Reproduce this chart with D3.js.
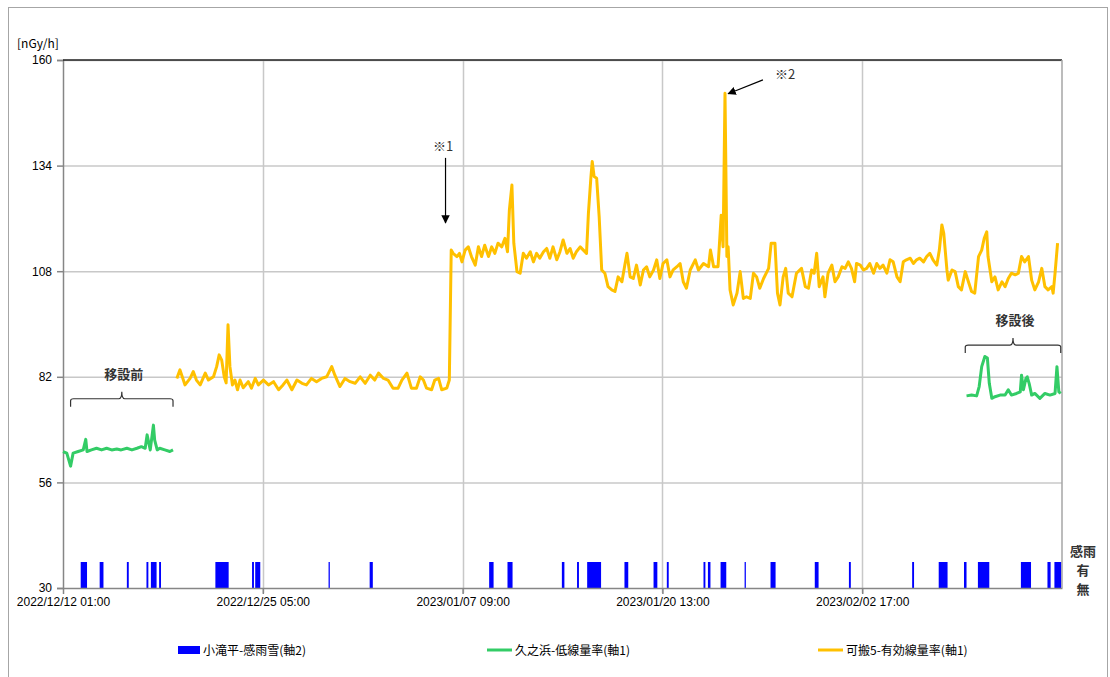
<!DOCTYPE html>
<html>
<head>
<meta charset="utf-8">
<script src="https://cdn.jsdelivr.net/npm/d3@7"></script>
<style>
  body { margin: 0; background: #fff; }
  svg { font-family: "Noto Sans CJK JP", "Noto Sans", sans-serif; }
</style>
</head>
<body>
<svg id="chart" width="1110" height="677"></svg>
<script>
// hours counted from 2022/12/12 01:00
const startTime = Date.UTC(2022, 11, 12, 1);
const totalHours = 1580;
const xTickHours = [0, 316, 632, 948, 1264];
const yTicks = [30, 56, 82, 108, 134, 160];

// 小滝平-感雨雪 (軸2): [from hour, to hour] with rain/snow = 1
const rainPeriods = [
  [28, 38], [58, 64], [101, 104], [132, 135], [139, 148], [152, 155],
  [241, 262], [299, 302], [304, 312], [420, 422], [485, 490],
  [674, 681], [703, 711], [789, 793], [813, 816], [829, 851], [888, 894],
  [934, 940], [955, 958], [1013, 1016], [1020, 1024], [1040, 1049],
  [1078, 1080], [1119, 1127], [1189, 1195], [1243, 1246], [1343, 1346],
  [1385, 1399], [1425, 1429], [1447, 1465], [1515, 1531], [1557, 1562], [1568, 1579]
];

// 久之浜-低線量率 (軸1), before and after relocation
const kuNoHamaBefore = [
  [0, 63.6], [6, 63.2], [12, 60.0], [16, 63.2], [24, 63.6], [32, 64.0], [36, 66.6],
  [38, 63.6], [45, 64.0], [53, 64.4], [61, 64.0], [69, 64.4], [77, 64.0], [85, 64.2],
  [92, 64.0], [101, 64.4], [109, 64.0], [117, 64.4], [124, 64.8], [130, 64.4],
  [133, 67.7], [138, 64.0], [143, 70.1], [145, 66.4], [149, 64.0], [153, 64.4],
  [161, 64.0], [169, 63.6], [174, 64.0]
];
const kuNoHamaAfter = [
  [1429, 77.3], [1437, 77.5], [1445, 77.3], [1449, 79.6], [1453, 84.5], [1458, 87.0],
  [1462, 86.6], [1465, 80.4], [1469, 76.7], [1474, 77.1], [1482, 77.5], [1490, 77.5],
  [1495, 78.8], [1500, 77.5], [1508, 77.9], [1514, 78.3], [1516, 82.4], [1519, 78.8],
  [1523, 81.6], [1525, 82.0], [1528, 80.4], [1532, 77.5], [1537, 77.9], [1545, 76.7],
  [1553, 77.9], [1561, 77.5], [1569, 77.9], [1572, 84.5], [1575, 78.3], [1578, 77.9]
];

// 可搬5-有効線量率 (軸1)
const kahan5 = [
  [180, 81.6], [185, 83.7], [193, 80.0], [201, 81.6], [206, 83.3], [211, 81.2], [217, 80.0],
  [225, 82.9], [230, 81.2], [238, 82.0], [243, 84.5], [247, 87.4], [251, 86.1], [255, 82.0],
  [258, 80.5], [261, 94.8], [264, 84.5], [268, 80.0], [272, 81.2], [276, 78.8], [280, 81.2],
  [285, 79.3], [293, 80.8], [298, 79.2], [304, 81.6], [309, 80.0], [317, 81.2], [325, 80.0],
  [333, 80.8], [341, 78.8], [348, 80.0], [354, 81.2], [362, 78.8], [370, 81.2], [378, 80.4],
  [385, 80.0], [393, 81.6], [401, 80.8], [409, 81.6], [417, 82.0], [425, 84.5], [430, 82.4],
  [438, 79.6], [446, 81.6], [454, 80.8], [462, 80.4], [470, 82.0], [478, 80.4], [486, 82.4],
  [493, 81.2], [499, 82.9], [507, 81.6], [514, 81.2], [522, 79.2], [530, 79.2], [536, 81.2],
  [544, 82.9], [551, 79.2], [559, 79.2], [565, 82.0], [570, 81.2], [575, 79.2], [583, 78.8],
  [588, 81.2], [594, 81.6], [599, 78.8], [607, 79.2], [611, 81.2], [614, 113.2],
  [617, 112.4], [623, 111.6], [627, 112.4], [631, 110.3], [636, 113.2], [641, 114.0],
  [646, 111.6], [652, 109.5], [657, 114.0], [662, 111.6], [667, 114.4], [673, 111.6],
  [678, 114.0], [683, 112.4], [688, 114.9], [694, 114.0], [699, 116.1], [703, 112.8],
  [706, 123.1], [710, 129.2], [713, 114.9], [718, 107.9], [723, 107.5], [728, 112.4],
  [733, 111.2], [739, 112.8], [744, 110.3], [749, 112.4], [754, 111.2], [760, 112.8],
  [765, 113.6], [770, 111.2], [775, 114.0], [781, 110.8], [786, 112.8], [791, 115.7],
  [797, 112.4], [802, 113.6], [807, 111.2], [812, 112.8], [818, 114.0], [823, 113.2],
  [828, 112.4], [831, 122.3], [835, 131.3], [837, 135.0], [840, 131.3], [844, 130.9],
  [848, 121.4], [852, 108.3], [857, 107.5], [862, 104.2], [868, 103.4], [873, 103.0],
  [878, 106.6], [884, 105.4], [889, 109.9], [892, 112.4], [897, 106.6], [902, 106.2],
  [907, 109.5], [913, 104.6], [918, 108.3], [923, 109.1], [928, 106.6], [934, 108.3],
  [939, 110.8], [944, 106.2], [949, 109.9], [955, 110.8], [960, 106.6], [965, 108.3],
  [971, 109.1], [976, 109.9], [981, 105.4], [986, 103.8], [992, 108.3], [1000, 110.8],
  [1005, 108.3], [1013, 109.9], [1021, 109.1], [1024, 113.2], [1029, 109.1], [1036, 109.1],
  [1041, 121.8], [1044, 114.0], [1047, 151.8], [1050, 111.6], [1052, 114.0], [1055, 103.4],
  [1060, 99.7], [1066, 102.6], [1071, 107.9], [1076, 101.3], [1081, 101.7], [1087, 101.3],
  [1092, 107.5], [1097, 106.6], [1102, 103.8], [1108, 106.2], [1116, 108.7], [1120, 114.9],
  [1126, 114.9], [1130, 102.6], [1134, 99.7], [1139, 106.6], [1143, 108.7], [1147, 102.6],
  [1153, 101.7], [1160, 107.5], [1168, 108.7], [1174, 104.2], [1179, 103.8], [1184, 108.3],
  [1188, 107.5], [1192, 112.4], [1196, 104.2], [1202, 106.6], [1205, 101.7], [1210, 107.5],
  [1216, 109.5], [1221, 105.4], [1226, 106.6], [1232, 109.1], [1237, 108.7], [1242, 110.3],
  [1247, 108.7], [1252, 105.4], [1255, 109.9], [1261, 109.5], [1266, 108.3], [1271, 108.7],
  [1276, 109.9], [1282, 107.5], [1287, 109.9], [1292, 108.7], [1297, 109.5], [1303, 107.5],
  [1308, 110.8], [1313, 110.3], [1319, 106.6], [1324, 105.4], [1329, 110.3], [1334, 110.8],
  [1340, 111.2], [1345, 109.9], [1350, 110.8], [1355, 111.2], [1361, 110.3], [1366, 111.6],
  [1371, 112.4], [1376, 110.8], [1382, 109.5], [1386, 113.2], [1390, 119.4], [1393, 117.3],
  [1398, 108.3], [1400, 105.8], [1406, 108.3], [1411, 107.9], [1416, 104.2], [1421, 103.4],
  [1427, 107.9], [1432, 105.4], [1437, 103.0], [1442, 102.6], [1448, 111.6], [1453, 113.2],
  [1457, 116.1], [1461, 117.7], [1463, 111.6], [1469, 105.4], [1474, 106.6], [1479, 103.4],
  [1485, 105.4], [1490, 104.2], [1495, 106.2], [1500, 107.5], [1506, 107.1], [1511, 107.5],
  [1516, 111.6], [1521, 110.3], [1527, 111.6], [1532, 105.8], [1537, 103.4], [1543, 105.4],
  [1548, 108.7], [1553, 104.2], [1558, 103.4], [1564, 104.2], [1566, 102.6], [1569, 107.5],
  [1573, 114.9]
];

const legendNames = ["小滝平-感雨雪(軸2)", "久之浜-低線量率(軸1)", "可搬5-有効線量率(軸1)"];
const colors = { rain: "#0000ff", green: "#33cc66", yellow: "#ffc000" };

const mLeft = 63, mRight = 1062, mTop = 60, mBottom = 588;
const hr = h => new Date(startTime + h * 3600e3);

const x = d3.scaleUtc()
  .domain([hr(0), hr(totalHours)])
  .range([mLeft, mRight]);
const y = d3.scaleLinear().domain([30, 160]).range([mBottom, mTop]);
const y2 = d3.scaleLinear().domain([0, 1]).range([mBottom, mBottom - 26]);
const fmt = d3.utcFormat("%Y/%m/%d %H:%M");

const svg = d3.select("#chart");

// outer frame
svg.append("rect")
  .attr("x", 8.5).attr("y", 7.5).attr("width", 1099).attr("height", 675)
  .attr("fill", "none").attr("stroke", "#a6a6a6");

// grid
svg.append("g").selectAll("line")
  .data(yTicks.slice(1))
  .join("line")
  .attr("x1", mLeft).attr("x2", mRight)
  .attr("y1", d => y(d) + 0.5).attr("y2", d => y(d) + 0.5)
  .attr("stroke", "#c8c8c8").attr("stroke-width", 1.5);
svg.append("g").selectAll("line")
  .data(xTickHours.slice(1))
  .join("line")
  .attr("x1", d => Math.round(x(hr(d))) + 0.5).attr("x2", d => Math.round(x(hr(d))) + 0.5)
  .attr("y1", mTop).attr("y2", mBottom + 5)
  .attr("stroke", "#c8c8c8").attr("stroke-width", 1.5);

// rain/snow bars on axis 2
svg.append("g")
  .attr("fill", colors.rain)
  .selectAll("rect")
  .data(rainPeriods)
  .join("rect")
  .attr("x", d => x(hr(d[0])))
  .attr("width", d => Math.max(1.2, x(hr(d[1])) - x(hr(d[0]))))
  .attr("y", y2(1))
  .attr("height", y2(0) - y2(1));

// y axis
const yAxis = g => g
  .attr("transform", `translate(${mLeft},0)`)
  .call(d3.axisLeft(y).tickValues(yTicks).tickSize(6).tickPadding(5))
  .call(g => g.selectAll("text").attr("font-size", "12px").attr("fill", "#000"))
  .call(g => g.selectAll("line, path").attr("stroke", "#868686").attr("stroke-width", 1.5));
svg.append("g").call(yAxis);

// x axis
const xAxis = g => g
  .attr("transform", `translate(0,${mBottom})`)
  .call(d3.axisBottom(x).tickValues(xTickHours.map(hr)).tickFormat(fmt).tickSize(6).tickPadding(3).tickSizeOuter(0))
  .call(g => g.selectAll("text").attr("font-size", "12px").attr("fill", "#000"))
  .call(g => g.selectAll("line, path").attr("stroke", "#868686").attr("stroke-width", 1.5));
svg.append("g").call(xAxis);

// plot border top / right
svg.append("line").attr("x1", mLeft).attr("x2", mRight).attr("y1", mTop).attr("y2", mTop)
  .attr("stroke", "#222").attr("stroke-width", 1.5);
svg.append("line").attr("x1", mRight).attr("x2", mRight).attr("y1", mTop).attr("y2", mBottom)
  .attr("stroke", "#a6a6a6").attr("stroke-width", 1.5);

svg.append("text")
  .attr("x", 17).attr("y", 48)
  .attr("font-size", "12px")
  .text("[nGy/h]");

// lines
const line = d3.line()
  .x(d => x(hr(d[0])))
  .y(d => y(d[1]));

[[kuNoHamaBefore, colors.green], [kuNoHamaAfter, colors.green], [kahan5, colors.yellow]]
  .forEach(([data, c]) => {
    svg.append("path")
      .datum(data)
      .attr("fill", "none")
      .attr("stroke", c)
      .attr("stroke-width", 3)
      .attr("stroke-linejoin", "round")
      .attr("d", line);
  });

// axis 2 labels
const rightLabels = svg.append("g")
  .attr("text-anchor", "middle")
  .attr("font-size", "13px")
  .attr("font-weight", "bold")
  .attr("fill", "#333");
rightLabels.append("text").attr("x", 1083).attr("y", y2(1) - 6).text("感雨");
rightLabels.append("text").attr("x", 1083).attr("y", y2(0.5)).text("有");
rightLabels.append("text").attr("x", 1083).attr("y", y2(0) + 6).text("無");

// annotations: brackets
function bracket(h0, h1, yv, label) {
  const x0 = x(hr(h0)), x1 = x(hr(h1)), xm = (x0 + x1) / 2, yy = y(yv);
  svg.append("path")
    .attr("d", `M${x0},${yy + 8} L${x0},${yy + 2} Q${x0},${yy} ${x0 + 3},${yy} L${xm - 3},${yy} Q${xm},${yy} ${xm},${yy - 7} Q${xm},${yy} ${xm + 3},${yy} L${x1 - 3},${yy} Q${x1},${yy} ${x1},${yy + 2} L${x1},${yy + 8}`)
    .attr("fill", "none").attr("stroke", "#333").attr("stroke-width", 1.2);
  svg.append("text")
    .attr("x", xm + 2).attr("y", yy - 20)
    .attr("text-anchor", "middle")
    .attr("font-size", "13px")
    .attr("font-weight", "bold")
    .attr("fill", "#333")
    .text(label);
}
bracket(12, 174, 76.6, "移設前");
bracket(1427, 1578, 89.8, "移設後");

// arrows
svg.append("defs").append("marker")
  .attr("id", "arrow").attr("viewBox", "0 0 10 10")
  .attr("refX", 9).attr("refY", 5)
  .attr("markerWidth", 7).attr("markerHeight", 7)
  .attr("orient", "auto")
  .append("path").attr("d", "M0,0 L10,5 L0,10 Z").attr("fill", "#000");

function arrow(h0, v0, h1, v1, label, lx, ly) {
  svg.append("line")
    .attr("x1", x(hr(h0))).attr("y1", y(v0))
    .attr("x2", x(hr(h1))).attr("y2", y(v1))
    .attr("stroke", "#000").attr("stroke-width", 1.2)
    .attr("marker-end", "url(#arrow)");
  svg.append("text")
    .attr("x", x(hr(lx))).attr("y", y(ly))
    .attr("text-anchor", "middle")
    .attr("font-size", "13px")
    .attr("fill", "#333")
    .text(label);
}
arrow(605, 135.9, 605, 119.9, "※1", 601, 137.6);
arrow(1107, 155.1, 1052, 151.7, "※2", 1142, 155.2);

// legend
const legend = svg.append("g").attr("font-size", "12px");
const legendX = [178, 487, 818];
legend.append("rect").attr("x", legendX[0]).attr("y", 646).attr("width", 22).attr("height", 8).attr("fill", colors.rain);
legend.append("line").attr("x1", legendX[1]).attr("x2", legendX[1] + 25).attr("y1", 650).attr("y2", 650)
  .attr("stroke", colors.green).attr("stroke-width", 3);
legend.append("line").attr("x1", legendX[2]).attr("x2", legendX[2] + 25).attr("y1", 650).attr("y2", 650)
  .attr("stroke", colors.yellow).attr("stroke-width", 3);
legend.selectAll("text")
  .data(legendNames)
  .join("text")
  .attr("x", (d, i) => legendX[i] + (i === 0 ? 25 : 28))
  .attr("y", 654.5)
  .text(d => d);
</script>
</body>
</html>
